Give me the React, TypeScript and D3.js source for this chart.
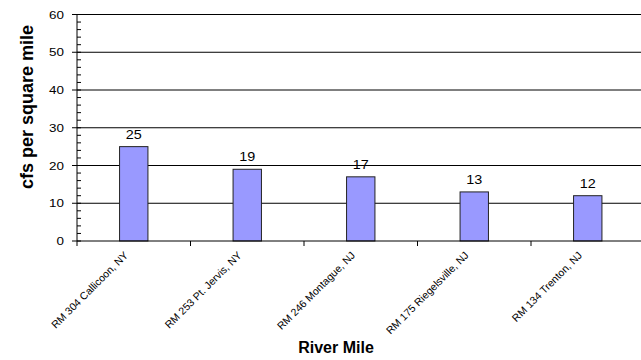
import React from "react";
import * as d3 from "d3";

const categories = [
  "RM 304 Callicoon, NY",
  "RM 253 Pt. Jervis, NY",
  "RM 246 Montague, NJ",
  "RM 175 Riegelsville, NJ",
  "RM 134 Trenton, NJ",
];
const values = [25, 19, 17, 13, 12];
const yTicks = [0, 10, 20, 30, 40, 50, 60];
const yMinorTicks = d3.range(0, 61, 2);

const W = 641;
const H = 360;
const left = 77;
const right = 644.5;
const top = 14.5;
const bottom = 241;

export default function App() {
  const x = d3.scaleBand<string>().domain(categories).range([left, right]).paddingInner(0).paddingOuter(0);
  const y = d3.scaleLinear().domain([0, 60]).range([bottom, top]);
  const bw = x.bandwidth() / 4;
  const font = "Arial, 'Liberation Sans', Helvetica, sans-serif";
  return (
    <svg width={W} height={H} style={{ position: "absolute", left: 0, top: 0, background: "#fff" }} fontFamily={font}>
      {yTicks.filter((t) => t > 0).map((t) => (
        <line key={"g" + t} x1={left} x2={W} y1={y(t)} y2={y(t)} stroke="#000" strokeWidth={1} />
      ))}
      {yMinorTicks.map((t) => (
        <line key={"m" + t} x1={left} x2={left + 4} y1={y(t)} y2={y(t)} stroke="#000" strokeWidth={1} />
      ))}
      {yTicks.map((t) => (
        <g key={"t" + t}>
          <line x1={left - 5} x2={left} y1={y(t)} y2={y(t)} stroke="#000" />
          <text
            transform={`translate(${left - 13},${y(t) + 4}) scale(1.22,1)`}
            textAnchor="end"
            fontSize={11}
            fill="#000"
          >
            {t}
          </text>
        </g>
      ))}
      {categories.map((c, i) => {
        const cx = (x(c) as number) + x.bandwidth() / 2;
        return (
          <g key={c}>
            <rect x={cx - bw / 2} y={y(values[i])} width={bw} height={bottom - y(values[i])} fill="#9999FF" stroke="#222" strokeWidth={1} />
            <text
              transform={`translate(${cx},${y(values[i]) - 8}) scale(1.15,1)`}
              textAnchor="middle"
              fontSize={12.5}
              fill="#000"
            >
              {values[i]}
            </text>
            <text
              transform={`translate(${cx - 5},${bottom + 15}) rotate(-45)`}
              textAnchor="end"
              fontSize={10.5}
              fill="#000"
            >
              {c}
            </text>
          </g>
        );
      })}
      {d3.range(0, categories.length + 1).map((i) => (
        <line key={"xt" + i} x1={left + i * x.bandwidth()} x2={left + i * x.bandwidth()} y1={bottom} y2={bottom + 5} stroke="#000" />
      ))}
      <line x1={left} x2={left} y1={top} y2={bottom} stroke="#000" />
      <line x1={left} x2={W} y1={bottom} y2={bottom} stroke="#000" />
      <text transform={`translate(33,107) rotate(-90)`} textAnchor="middle" fontSize={18} fontWeight="bold" fill="#000">
        cfs per square mile
      </text>
      <text x={336} y={353} textAnchor="middle" fontSize={16} fontWeight="bold" fill="#000">
        River Mile
      </text>
    </svg>
  );
}
